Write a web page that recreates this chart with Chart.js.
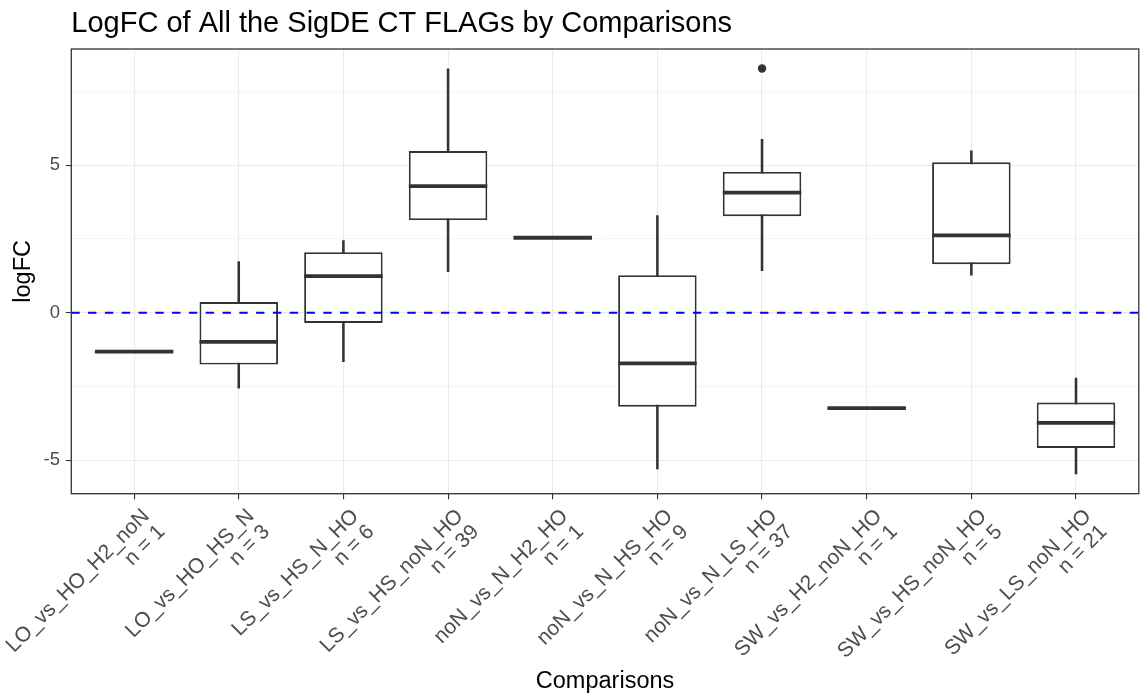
<!DOCTYPE html>
<html>
<head>
<meta charset="utf-8">
<style>
  html, body { margin: 0; padding: 0; background: #ffffff; }
  #wrap { width: 1143px; height: 700px; }
</style>
<script src="https://cdn.jsdelivr.net/npm/chart.js@4.4.1/dist/chart.umd.min.js"></script>
</head>
<body>
<div id="wrap"><canvas id="c" width="1143" height="700"></canvas></div>
<script>
// Comparisons and number of significant flags in each
const categories = [
  'LO_vs_HO_H2_noN', 'LO_vs_HO_HS_N', 'LS_vs_HS_N_HO', 'LS_vs_HS_noN_HO',
  'noN_vs_N_H2_HO', 'noN_vs_N_HS_HO', 'noN_vs_N_LS_HO', 'SW_vs_H2_noN_HO',
  'SW_vs_HS_noN_HO', 'SW_vs_LS_noN_HO'
];
const nCounts = [1, 3, 6, 39, 1, 9, 37, 1, 5, 21];

// Five-number summaries of logFC per comparison
const whiskerLow  = [-1.32, -2.56, -1.66, 1.39, 2.54, -5.30, 1.42, -3.24, 1.27, -5.47];
const q1          = [-1.32, -1.76, -0.35, 3.14, 2.54, -3.19, 3.27, -3.24, 1.64, -4.59];
const median      = [-1.32, -0.99,  1.24, 4.29, 2.54, -1.72, 4.07, -3.24, 2.62, -3.74];
const q3          = [-1.32,  0.36,  2.05, 5.48, 2.54,  1.27, 4.77, -3.24, 5.10, -3.05];
const whiskerHigh = [-1.32,  1.73,  2.44, 8.27, 2.54,  3.29, 5.88, -3.24, 5.49, -2.22];

// Points beyond the whiskers (comparison number, value)
const outlierGroup = [7];
const outlierValue = [8.28];

// Reference line and y axis ticks
const refLineY = 0;
const yMajorTicks = [-5, 0, 5];
const yMinorTicks = [-2.5, 2.5, 7.5];

const FONT = 'Liberation Sans, Arial, Helvetica, sans-serif';
const INK = '#333333';
const GRID = '#EBEBEB';

const xPos = categories.map((_, i) => i + 1);
const xLabels = categories.map((c, i) => [c, 'n = ' + nCounts[i]]);
const yTicksAll = yMajorTicks.concat(yMinorTicks).sort((a, b) => a - b);
const isMajor = v => yMajorTicks.some(m => Math.abs(m - v) < 1e-9);

const halfBox = ctx => {
  const xs = ctx.chart.scales.x;
  return (xs.getPixelForValue(2) - xs.getPixelForValue(1)) * 0.375;
};

// Outline around the whole plotting panel
const panelBorder = {
  id: 'panelBorder',
  afterDatasetsDraw(chart) {
    const { ctx, chartArea: a } = chart;
    ctx.save();
    ctx.strokeStyle = INK;
    ctx.lineWidth = 1.3;
    ctx.strokeRect(a.left, a.top, a.right - a.left, a.bottom - a.top);
    ctx.restore();
  }
};

new Chart(document.getElementById('c'), {
  type: 'bar',
  data: {
    datasets: [
      {
        label: 'whiskers',
        order: 5,
        grouped: false,
        barThickness: 1.9,
        backgroundColor: INK,
        borderWidth: 0,
        data: xPos.map((x, i) => ({ x, y: [whiskerLow[i], whiskerHigh[i]] }))
      },
      {
        label: 'boxes',
        order: 4,
        grouped: false,
        barPercentage: 0.75,
        categoryPercentage: 1,
        backgroundColor: '#ffffff',
        borderColor: INK,
        borderWidth: 1.9,
        borderSkipped: false,
        data: xPos.map((x, i) => ({ x, y: [q1[i], q3[i]] }))
      },
      {
        type: 'line',
        label: 'medians',
        order: 3,
        showLine: false,
        pointStyle: 'line',
        pointRadius: halfBox,
        pointBorderWidth: 3.8,
        pointBorderColor: INK,
        data: xPos.map((x, i) => ({ x, y: median[i] }))
      },
      {
        type: 'line',
        label: 'outliers',
        order: 2,
        showLine: false,
        pointStyle: 'circle',
        pointRadius: 4.2,
        pointBorderWidth: 0,
        pointBackgroundColor: INK,
        data: outlierGroup.map((g, i) => ({ x: g, y: outlierValue[i] }))
      },
      {
        type: 'line',
        label: 'zero',
        order: 1,
        borderColor: '#0000FF',
        borderWidth: 2,
        borderDash: [8.4, 8.4],
        pointRadius: 0,
        data: [{ x: 0.4, y: refLineY }, { x: 10.6, y: refLineY }]
      }
    ]
  },
  options: {
    responsive: false,
    devicePixelRatio: 1,
    animation: false,
    events: [],
    layout: { padding: { left: 0, right: 1.3, top: 0, bottom: 0 } },
    plugins: {
      legend: { display: false },
      tooltip: { enabled: false },
      title: {
        display: true,
        fullSize: false,
        align: 'start',
        text: 'LogFC of All the SigDE CT FLAGs by Comparisons',
        color: '#000000',
        font: { family: FONT, size: 29, weight: 'normal', lineHeight: 1.2 },
        padding: { top: 6.3, bottom: 7.9 }
      }
    },
    scales: {
      x: {
        type: 'linear',
        min: 0.4,
        max: 10.6,
        offset: false,
        afterBuildTicks: axis => { axis.ticks = xPos.map(v => ({ value: v })); },
        afterFit: axis => { axis.height = 206.3; axis.paddingLeft = 0; axis.paddingRight = 0; },
        grid: {
          offset: false,
          color: GRID,
          lineWidth: 1.1,
          drawTicks: true,
          tickLength: 5.5,
          tickColor: INK,
          tickWidth: 1.1
        },
        border: { display: false },
        ticks: {
          autoSkip: false,
          minRotation: 45,
          maxRotation: 45,
          padding: 6,
          labelOffset: 12,
          color: '#4D4D4D',
          font: { family: FONT, size: 21, lineHeight: 1.05 },
          callback: v => xLabels[Math.round(v) - 1]
        },
        title: {
          display: true,
          text: 'Comparisons',
          color: '#000000',
          font: { family: FONT, size: 23.5, lineHeight: 1.2 },
          padding: { top: 0, bottom: 4.6 }
        }
      },
      y: {
        type: 'linear',
        min: -6.14,
        max: 8.94,
        afterBuildTicks: axis => { axis.ticks = yTicksAll.map(v => ({ value: v })); },
        afterFit: axis => { axis.width = 71.3; axis.paddingTop = 0; axis.paddingBottom = 0; },
        grid: {
          color: GRID,
          lineWidth: c => (c.tick && isMajor(c.tick.value)) ? 1.1 : 0.55,
          drawTicks: true,
          tickLength: 5.5,
          tickColor: c => (c.tick && isMajor(c.tick.value)) ? INK : 'rgba(0,0,0,0)',
          tickWidth: 1.1
        },
        border: { display: false },
        ticks: {
          padding: 5.8,
          color: '#4D4D4D',
          font: { family: FONT, size: 18.5 },
          callback: v => isMajor(v) ? String(v) : ''
        },
        title: {
          display: true,
          text: 'logFC',
          color: '#000000',
          font: { family: FONT, size: 23.5, lineHeight: 1.2 },
          padding: { top: 9.4, bottom: 0 }
        }
      }
    }
  },
  plugins: [panelBorder]
});
</script>
</body>
</html>
